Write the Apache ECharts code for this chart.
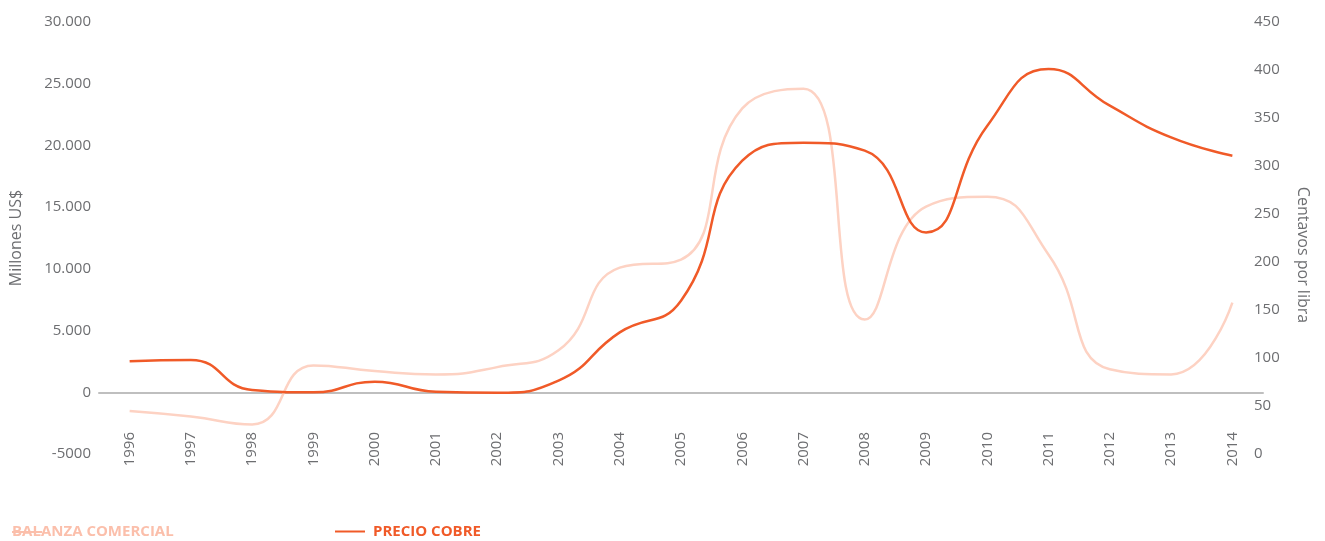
<!DOCTYPE html>
<html>
<head>
<meta charset="utf-8">
<script src="https://cdn.jsdelivr.net/npm/echarts@6/dist/echarts.min.js"></script>
<style>
  html, body { margin: 0; padding: 0; background: #fff; }
  #chart { width: 1325px; height: 541px; }
</style>
</head>
<body>
<div id="chart"></div>
<script>
// años
var years = ['1996', '1997', '1998', '1999', '2000', '2001', '2002', '2003', '2004', '2005',
             '2006', '2007', '2008', '2009', '2010', '2011', '2012', '2013', '2014'];
// balanza comercial, millones US$ (eje izquierdo)
var balanza = [-1510, -1960, -2600, 2180, 1720, 1450, 2040, 3400, 10100, 10740,
               23000, 24600, 5900, 15050, 15850, 11150, 1860, 1450, 7270];
// precio cobre, centavos por libra (eje derecho)
var cobre = [96.5, 98, 66.7, 64.2, 75.3, 64.9, 63.9, 76.4, 126.7, 159.7,
             305.5, 324.3, 316, 230.8, 342, 401, 362.8, 329.8, 310.7];

var gray = '#6d6e71';
var dark = '#f05a28';
var light = '#fdd2c3';
var legendLight = '#fbbfab';
var font = '"Open Sans", "DejaVu Sans", sans-serif';

var chart = echarts.init(document.getElementById('chart'));

chart.setOption({
    animation: false,
    grid: { left: 99, right: 62, top: 22, bottom: 87 },
    legend: [{
        left: 7, top: 524, padding: 0,
        itemWidth: 0, itemHeight: 0, icon: 'none',
        data: ['BALANZA COMERCIAL'],
        textStyle: { color: legendLight, fontFamily: font, fontSize: 15, fontWeight: 'bold' }
    }, {
        left: 335, top: 524, padding: 0,
        itemWidth: 30, itemHeight: 2,
        icon: 'path://M0,0 L30,0 L30,2 L0,2 Z',
        data: ['PRECIO COBRE'],
        textStyle: { color: dark, fontFamily: font, fontSize: 15, fontWeight: 'bold', padding: [0, 0, 0, 3] }
    }],
    graphic: [{
        type: 'line',
        shape: { x1: 12, y1: 532, x2: 42, y2: 532 },
        style: { stroke: legendLight, lineWidth: 2 }
    }],
    xAxis: {
        type: 'category',
        data: years,
        boundaryGap: true,
        axisLine: { onZero: true, lineStyle: { color: '#bfbfbf', width: 2 } },
        axisTick: { show: false },
        axisLabel: {
            rotate: 90, margin: -22, color: gray,
            fontFamily: font, fontSize: 15, interval: 0
        }
    },
    yAxis: [{
        type: 'value',
        min: -5000, max: 30000, interval: 5000,
        name: 'Millones US$',
        nameLocation: 'middle',
        nameGap: 75,
        nameTextStyle: { color: gray, fontFamily: font, fontSize: 16 },
        axisLine: { show: false },
        axisTick: { show: false },
        splitLine: { show: false },
        axisLabel: {
            color: gray, fontFamily: font, fontSize: 15, margin: 8,
            formatter: function (v) {
                if (v <= 0) return String(v);
                return String(v).replace(/\B(?=(\d{3})+(?!\d))/g, '.');
            }
        }
    }, {
        type: 'value',
        min: 0, max: 450, interval: 50,
        name: 'Centavos por libra',
        nameLocation: 'middle',
        nameRotate: -90,
        nameGap: 32,
        nameTextStyle: { color: gray, fontFamily: font, fontSize: 16, padding: [0, 0, 0, 34] },
        axisLine: { show: false },
        axisTick: { show: false },
        splitLine: { show: false },
        axisLabel: { color: gray, fontFamily: font, fontSize: 15, margin: -9 }
    }],
    series: [{
        name: 'BALANZA COMERCIAL',
        type: 'line',
        yAxisIndex: 0,
        data: balanza,
        smooth: 0.5,
        symbol: 'none',
        lineStyle: { color: light, width: 2.5 },
        itemStyle: { color: light }
    }, {
        name: 'PRECIO COBRE',
        type: 'line',
        yAxisIndex: 1,
        data: cobre,
        smooth: 0.5,
        symbol: 'none',
        lineStyle: { color: dark, width: 2.5 },
        itemStyle: { color: dark }
    }]
});
</script>
</body>
</html>
